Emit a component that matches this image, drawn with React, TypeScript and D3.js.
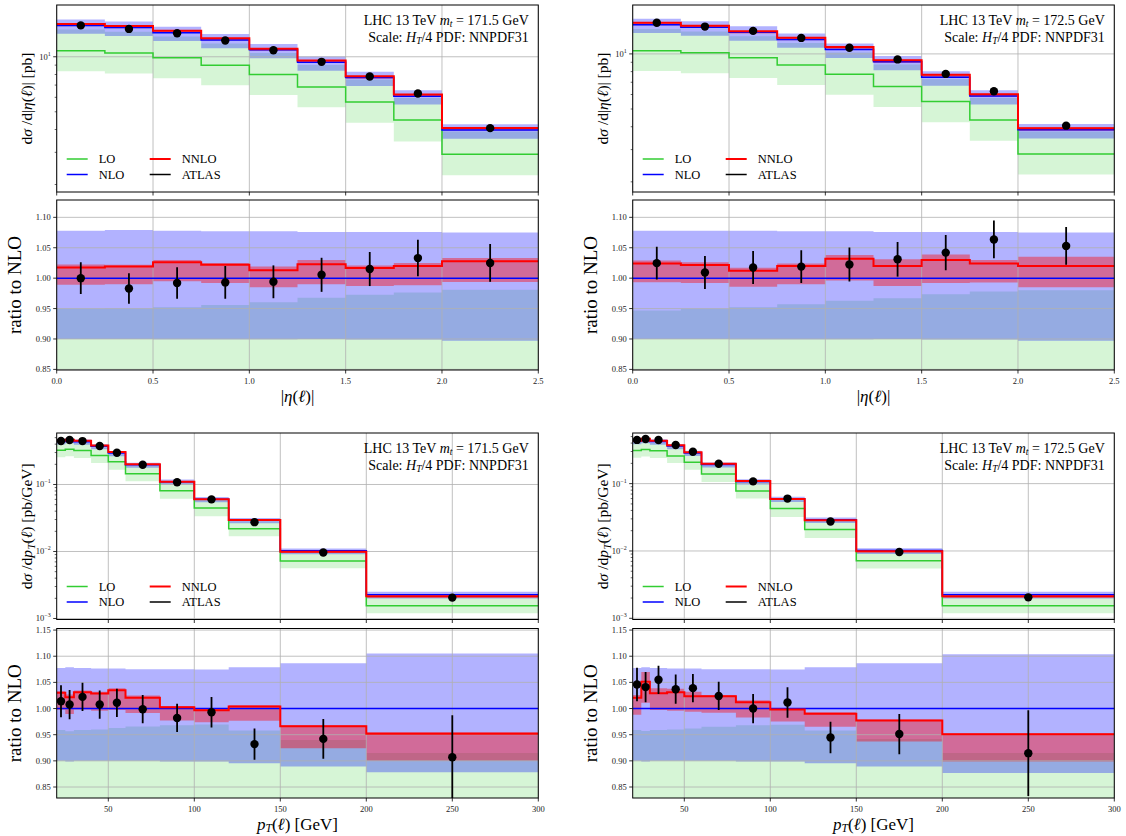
import React from "react";
import * as d3 from "d3";

// ---------------- data ----------------
const etaEdges = [0, 0.25, 0.5, 0.75, 1.0, 1.25, 1.5, 1.75, 2.0, 2.5];
const ptEdges = [20, 25, 30, 40, 50, 60, 80, 100, 120, 150, 200, 300];
const etaTicks = [0, 0.5, 1.0, 1.5, 2.0, 2.5];
const ptTicks = [50, 100, 150, 200, 250, 300];
const etaRatioTicks = [0.85, 0.9, 0.95, 1.0, 1.05, 1.1];
const ptRatioTicks = [0.85, 0.9, 0.95, 1.0, 1.05, 1.1, 1.15];
const legendEntries = ["LO", "NLO", "NNLO", "ATLAS"];

// |eta| distribution, mt = 171.5 GeV
const etaNLO171 = [14.85, 14.45, 13.55, 12.37, 10.92, 9.33, 7.69, 6.09, 3.97];
const etaLO171 = [10.79, 10.48, 9.87, 9.0, 8.0, 6.84, 5.66, 4.51, 2.93];
const etaLOlow171 = [8.34, 8.11, 7.64, 6.99, 6.18, 5.3, 4.36, 3.44, 2.25];
const etaRatioLOhi171 = [0.9496, 0.95, 0.952, 0.956, 0.9605, 0.9677, 0.9726, 0.9764, 0.981];
const etaRatioNLOlo171 = [0.9, 0.9, 0.8995, 0.8995, 0.8995, 0.9, 0.899, 0.899, 0.897];
const etaRatioNLOhi171 = [1.078, 1.079, 1.078, 1.077, 1.077, 1.076, 1.076, 1.076, 1.075];
const etaRatioNNLO171 = [1.0175, 1.019, 1.026, 1.022, 1.013, 1.023, 1.0165, 1.02, 1.028];
const etaRatioNNLOlo171 = [0.989, 0.99, 0.995, 0.992, 0.985, 0.99, 0.987, 0.9885, 0.9935];
const etaRatioNNLOhi171 = [1.0225, 1.022, 1.03, 1.025, 1.019, 1.03, 1.021, 1.025, 1.033];
const etaRatioData171 = [1.0, 0.983, 0.992, 0.993, 0.994, 1.0055, 1.015, 1.033, 1.025];
const etaRatioErr171 = [0.026, 0.025, 0.026, 0.027, 0.027, 0.028, 0.028, 0.03, 0.031];

// |eta| distribution, mt = 172.5 GeV
const etaNLO172 = [14.45, 13.97, 13.13, 12.0, 10.57, 9.05, 7.46, 5.88, 3.85];
const etaLO172 = [10.42, 10.16, 9.54, 8.71, 7.75, 6.63, 5.49, 4.36, 2.84];
const etaLOlow172 = [8.07, 7.84, 7.39, 6.77, 5.99, 5.13, 4.23, 3.35, 2.19];
const etaRatioLOhi172 = [0.947, 0.9496, 0.952, 0.957, 0.963, 0.967, 0.9737, 0.978, 0.98];
const etaRatioNLOlo172 = [0.9, 0.9, 0.8995, 0.8995, 0.8995, 0.9, 0.899, 0.899, 0.897];
const etaRatioNLOhi172 = [1.078, 1.078, 1.078, 1.077, 1.077, 1.076, 1.076, 1.076, 1.075];
const etaRatioNNLO172 = [1.024, 1.0215, 1.012, 1.02, 1.032, 1.02, 1.03, 1.024, 1.02];
const etaRatioNNLOlo172 = [0.9934, 0.992, 0.986, 0.99, 0.996, 0.987, 0.992, 0.993, 0.985];
const etaRatioNNLOhi172 = [1.029, 1.026, 1.017, 1.024, 1.038, 1.031, 1.039, 1.03, 1.035];
const etaRatioData172 = [1.0247, 1.0093, 1.0175, 1.019, 1.0225, 1.031, 1.042, 1.0636, 1.053];
const etaRatioErr172 = [0.027, 0.027, 0.027, 0.027, 0.028, 0.0285, 0.029, 0.031, 0.031];

// pT distribution, mt = 171.5 GeV
const ptNLO171 = [0.44, 0.4575, 0.435, 0.372, 0.294, 0.197, 0.11, 0.0604, 0.0294, 0.01024, 0.00226];
const ptLO171 = [0.324, 0.336, 0.322, 0.271, 0.218, 0.145, 0.0808, 0.0446, 0.0219, 0.00721, 0.00155];
const ptLOlow171 = [0.2547, 0.2636, 0.2486, 0.2094, 0.1663, 0.1116, 0.0614, 0.0335, 0.01686, 0.00562, 0.0012];
const ptRatioLOhi171 = [0.959, 0.9567, 0.959, 0.96, 0.9627, 0.9656, 0.9682, 0.9694, 0.958, 0.94, 0.915];
const ptRatioNLOlo171 = [0.9, 0.899, 0.9, 0.9, 0.9, 0.9, 0.899, 0.899, 0.8955, 0.889, 0.878];
const ptRatioNLOhi171 = [1.0777, 1.079, 1.0777, 1.0764, 1.0764, 1.075, 1.075, 1.0745, 1.079, 1.0866, 1.105];
const ptRatioNNLO171 = [1.03, 1.0217, 1.031, 1.0287, 1.035, 1.0204, 1.0025, 0.9968, 1.0038, 0.966, 0.952];
const ptRatioNNLOlo171 = [0.9975, 0.9898, 0.998, 0.996, 0.997, 0.9917, 0.977, 0.974, 0.9765, 0.924, 0.9];
const ptRatioNNLOhi171 = [1.033, 1.027, 1.0344, 1.032, 1.039, 1.025, 1.005, 1.001, 1.0064, 0.968, 0.955];
const ptRatioData171 = [1.014, 1.0076, 1.0223, 1.0076, 1.011, 0.9987, 0.982, 0.993, 0.932, 0.942, 0.907];
const ptRatioErr171 = [0.0306, 0.028, 0.027, 0.027, 0.027, 0.027, 0.027, 0.029, 0.03, 0.038, 0.08];

// pT distribution, mt = 172.5 GeV
const ptNLO172 = [0.4264, 0.4428, 0.4218, 0.3616, 0.2859, 0.1924, 0.108, 0.0593, 0.029, 0.01014, 0.00224];
const ptLO172 = [0.311, 0.322, 0.308, 0.2564, 0.207, 0.1388, 0.0777, 0.0427, 0.0208, 0.00713, 0.00154];
const ptLOlow172 = [0.2427, 0.2537, 0.2394, 0.2019, 0.161, 0.1056, 0.06, 0.032, 0.01563, 0.0055, 0.00119];
const ptRatioLOhi172 = [0.959, 0.957, 0.959, 0.96, 0.962, 0.965, 0.968, 0.969, 0.958, 0.942, 0.915];
const ptRatioNLOlo172 = [0.9, 0.899, 0.9, 0.9, 0.9, 0.9, 0.899, 0.899, 0.8955, 0.889, 0.877];
const ptRatioNLOhi172 = [1.0777, 1.079, 1.0777, 1.0764, 1.0764, 1.075, 1.075, 1.0745, 1.079, 1.0866, 1.104];
const ptRatioNNLO172 = [1.0204, 1.051, 1.029, 1.031, 1.0236, 1.0236, 1.012, 0.998, 0.99, 0.977, 0.951];
const ptRatioNNLOlo172 = [0.988, 1.011, 0.997, 0.996, 0.994, 0.992, 0.983, 0.975, 0.965, 0.937, 0.899];
const ptRatioNNLOhi172 = [1.026, 1.07, 1.039, 1.0376, 1.032, 1.026, 1.016, 1.001, 0.993, 0.979, 0.953];
const ptRatioData172 = [1.0459, 1.041, 1.055, 1.037, 1.039, 1.024, 1.0, 1.0115, 0.9446, 0.9513, 0.9147];
const ptRatioErr172 = [0.032, 0.029, 0.027, 0.028, 0.027, 0.027, 0.028, 0.029, 0.03, 0.0385, 0.082];

// ---------------- styling ----------------
const FONT = "'Liberation Serif', 'DejaVu Serif', serif";
const C_LO = "#32cd32";
const C_NLO = "#0000ff";
const C_NNLO = "#ff0000";
const GRID = "#b0b0b0";

type Spec = {
  id: string;
  kind: "eta" | "pt";
  mt: string;
  left: number;
  right: number;
  mainTop: number;
  mainBottom: number;
  ratioTop: number;
  ratioBottom: number;
  edges: number[];
  xDomain: [number, number];
  xTicks: number[];
  mainDomain: [number, number];
  ratioDomain: [number, number];
  ratioTicks: number[];
  nlo: number[];
  lo: number[];
  loLow: number[];
  rLoHi: number[];
  rNloLo: number[];
  rNloHi: number[];
  rNnlo: number[];
  rNnloLo: number[];
  rNnloHi: number[];
  rData: number[];
  rErr: number[];
};

const COLS = [
  { left: 56.7, right: 538.3 },
  { left: 632.7, right: 1114.3 },
];
const ROWS = [
  { mainTop: 5, mainBottom: 192, ratioTop: 200, ratioBottom: 370 },
  { mainTop: 433, mainBottom: 619.5, ratioTop: 628.5, ratioBottom: 798 },
];

const specs: Spec[] = [
  {
    id: "a", kind: "eta", mt: "171.5", ...COLS[0], ...ROWS[0],
    edges: etaEdges, xDomain: [0, 2.5], xTicks: etaTicks,
    mainDomain: [1.82, 19.2], ratioDomain: [0.849, 1.1285], ratioTicks: etaRatioTicks,
    nlo: etaNLO171, lo: etaLO171, loLow: etaLOlow171, rLoHi: etaRatioLOhi171,
    rNloLo: etaRatioNLOlo171, rNloHi: etaRatioNLOhi171, rNnlo: etaRatioNNLO171,
    rNnloLo: etaRatioNNLOlo171, rNnloHi: etaRatioNNLOhi171, rData: etaRatioData171, rErr: etaRatioErr171,
  },
  {
    id: "b", kind: "eta", mt: "172.5", ...COLS[1], ...ROWS[0],
    edges: etaEdges, xDomain: [0, 2.5], xTicks: etaTicks,
    mainDomain: [1.76, 18.5], ratioDomain: [0.849, 1.1285], ratioTicks: etaRatioTicks,
    nlo: etaNLO172, lo: etaLO172, loLow: etaLOlow172, rLoHi: etaRatioLOhi172,
    rNloLo: etaRatioNLOlo172, rNloHi: etaRatioNLOhi172, rNnlo: etaRatioNNLO172,
    rNnloLo: etaRatioNNLOlo172, rNnloHi: etaRatioNNLOhi172, rData: etaRatioData172, rErr: etaRatioErr172,
  },
  {
    id: "c", kind: "pt", mt: "171.5", ...COLS[0], ...ROWS[1],
    edges: ptEdges, xDomain: [20, 300], xTicks: ptTicks,
    mainDomain: [0.000966, 0.587], ratioDomain: [0.829, 1.153], ratioTicks: ptRatioTicks,
    nlo: ptNLO171, lo: ptLO171, loLow: ptLOlow171, rLoHi: ptRatioLOhi171,
    rNloLo: ptRatioNLOlo171, rNloHi: ptRatioNLOhi171, rNnlo: ptRatioNNLO171,
    rNnloLo: ptRatioNNLOlo171, rNnloHi: ptRatioNNLOhi171, rData: ptRatioData171, rErr: ptRatioErr171,
  },
  {
    id: "d", kind: "pt", mt: "172.5", ...COLS[1], ...ROWS[1],
    edges: ptEdges, xDomain: [20, 300], xTicks: ptTicks,
    mainDomain: [0.00096, 0.565], ratioDomain: [0.829, 1.153], ratioTicks: ptRatioTicks,
    nlo: ptNLO172, lo: ptLO172, loLow: ptLOlow172, rLoHi: ptRatioLOhi172,
    rNloLo: ptRatioNLOlo172, rNloHi: ptRatioNLOhi172, rNnlo: ptRatioNNLO172,
    rNnloLo: ptRatioNNLOlo172, rNnloHi: ptRatioNNLOhi172, rData: ptRatioData172, rErr: ptRatioErr172,
  },
];

const mul = (a: number[], b: number[]) => a.map((v, i) => v * b[i]);
const div = (a: number[], b: number[]) => a.map((v, i) => v / b[i]);

function Group({ s }: { s: Spec }) {
  const x = d3.scaleLinear().domain(s.xDomain).range([s.left, s.right]);
  const ym = d3.scaleLog().domain(s.mainDomain).range([s.mainBottom, s.mainTop]);
  const yr = d3.scaleLinear().domain(s.ratioDomain).range([s.ratioBottom, s.ratioTop]);
  const n = s.nlo.length;
  const centers = s.edges.slice(0, n).map((e, i) => (e + s.edges[i + 1]) / 2);

  const stepPts = (vals: number[]) =>
    vals.map((v, i) => [s.edges[i], v] as [number, number]).concat([[s.edges[n], vals[n - 1]]]);
  const lineFor = (y: (v: number) => number, vals: number[]) =>
    d3.line<[number, number]>().x((d) => x(d[0])).y((d) => y(d[1])).curve(d3.curveStepAfter)(stepPts(vals)) || "";
  const areaFor = (y: (v: number) => number, lo: number[], hi: number[]) => {
    const pts = lo.map((v, i) => ({ x: s.edges[i], lo: v, hi: hi[i] }));
    pts.push({ x: s.edges[n], lo: lo[n - 1], hi: hi[n - 1] });
    return (
      d3.area<{ x: number; lo: number; hi: number }>()
        .x((d) => x(d.x))
        .y0((d) => y(d.lo))
        .y1((d) => y(d.hi))
        .curve(d3.curveStepAfter)(pts) || ""
    );
  };

  // main-panel quantities
  const loHi = mul(s.nlo, s.rLoHi);
  const nloLo = mul(s.nlo, s.rNloLo);
  const nloHi = mul(s.nlo, s.rNloHi);
  const nnlo = mul(s.nlo, s.rNnlo);
  const nnloLo = mul(s.nlo, s.rNnloLo);
  const nnloHi = mul(s.nlo, s.rNnloHi);
  const data = mul(s.nlo, s.rData);
  const dataErr = mul(s.nlo, s.rErr);
  // ratio-panel quantities
  const rLoLow = div(s.loLow, s.nlo);
  const rLo = div(s.lo, s.nlo);
  const ones = s.nlo.map(() => 1);

  // log ticks for main panel
  const [d0, d1] = s.mainDomain;
  const majors: number[] = [];
  const minors: number[] = [];
  for (let e = Math.floor(Math.log10(d0)); e <= Math.ceil(Math.log10(d1)); e++) {
    for (let k = 1; k <= 9; k++) {
      const v = k * Math.pow(10, e);
      if (v >= d0 * 0.999 && v <= d1 * 1.001) (k === 1 ? majors : minors).push(v);
    }
  }

  const W = s.right - s.left;
  const mainH = s.mainBottom - s.mainTop;
  const ratioH = s.ratioBottom - s.ratioTop;
  const clipM = `clipM${s.id}`;
  const clipR = `clipR${s.id}`;
  const tickFont = 8.5;
  const xFmt = s.kind === "eta" ? d3.format(".1f") : d3.format("d");
  const yFmt = d3.format(".2f");

  const bands = (y: any, lo1: number[], hi1: number[], lo2: number[], hi2: number[], lo3: number[], hi3: number[]) => (
    <g>
      <path d={areaFor(y, lo1, hi1)} fill={C_LO} fillOpacity={0.2} />
      <path d={areaFor(y, lo2, hi2)} fill={C_NLO} fillOpacity={0.3} />
      <path d={areaFor(y, lo3, hi3)} fill={C_NNLO} fillOpacity={0.4} />
    </g>
  );

  const midMain = (s.mainTop + s.mainBottom) / 2;
  const midRatio = (s.ratioTop + s.ratioBottom) / 2;
  const cx = (s.left + s.right) / 2;

  const legX = s.left;
  const legY0 = s.mainBottom - 33;
  const legRows = [
    { label: legendEntries[0], color: C_LO, col: 0, row: 0 },
    { label: legendEntries[1], color: C_NLO, col: 0, row: 1 },
    { label: legendEntries[2], color: C_NNLO, col: 1, row: 0 },
    { label: legendEntries[3], color: "#000", col: 1, row: 1 },
  ];

  return (
    <g>
      <defs>
        <clipPath id={clipM}>
          <rect x={s.left} y={s.mainTop} width={W} height={mainH} />
        </clipPath>
        <clipPath id={clipR}>
          <rect x={s.left} y={s.ratioTop} width={W} height={ratioH} />
        </clipPath>
      </defs>

      {/* ---------- main panel ---------- */}
      <g clipPath={`url(#${clipM})`}>
        {bands(ym, s.loLow, loHi, nloLo, nloHi, nnloLo, nnloHi)}
        {s.xTicks.map((t) => (
          <line key={"gx" + t} x1={x(t)} x2={x(t)} y1={s.mainTop} y2={s.mainBottom} stroke={GRID} strokeWidth={0.8} />
        ))}
        {majors.map((t) => (
          <line key={"gy" + t} x1={s.left} x2={s.right} y1={ym(t)} y2={ym(t)} stroke={GRID} strokeWidth={0.8} />
        ))}
        <path d={lineFor(ym, s.lo)} fill="none" stroke={C_LO} strokeWidth={1.5} />
        <path d={lineFor(ym, s.nlo)} fill="none" stroke={C_NLO} strokeWidth={1.5} />
        <path d={lineFor(ym, nnlo)} fill="none" stroke={C_NNLO} strokeWidth={2} />
        {centers.map((c, i) => (
          <g key={"dm" + i}>
            <line x1={x(c)} x2={x(c)} y1={ym(data[i] - dataErr[i])} y2={ym(data[i] + dataErr[i])} stroke="#000" strokeWidth={1.8} />
            <circle cx={x(c)} cy={ym(data[i])} r={4.2} fill="#000" />
          </g>
        ))}
      </g>
      <rect x={s.left} y={s.mainTop} width={W} height={mainH} fill="none" stroke="#000" strokeWidth={1} />
      {s.xTicks.map((t) => (
        <line key={"tmx" + t} x1={x(t)} x2={x(t)} y1={s.mainBottom} y2={s.mainBottom + 3.5} stroke="#000" strokeWidth={0.8} />
      ))}
      {majors.map((t) => (
        <g key={"tmy" + t}>
          <line x1={s.left - 3.5} x2={s.left} y1={ym(t)} y2={ym(t)} stroke="#000" strokeWidth={0.8} />
          <text x={s.left - 6} y={ym(t) + 3} textAnchor="end" fontFamily={FONT} fontSize={tickFont} fill="#222">
            10
            <tspan dy={-4} fontSize={6}>{String(Math.round(Math.log10(t))).replace("-", "\u2212")}</tspan>
          </text>
        </g>
      ))}
      {minors.map((t) => (
        <line key={"tny" + t} x1={s.left - 2} x2={s.left} y1={ym(t)} y2={ym(t)} stroke="#000" strokeWidth={0.6} />
      ))}
      {/* y label main */}
      <text
        transform={`translate(${s.left - 25},${midMain}) rotate(-90)`}
        textAnchor="middle"
        fontFamily={FONT}
        fontSize={15.5}
        fill="#000"
      >
        {s.kind === "eta" ? (
          <>
            d<tspan fontStyle="italic">σ</tspan> /d|<tspan fontStyle="italic">η</tspan>(<tspan fontStyle="italic">ℓ</tspan>)| [pb]
          </>
        ) : (
          <>
            d<tspan fontStyle="italic">σ</tspan> /d<tspan fontStyle="italic">p</tspan>
            <tspan fontStyle="italic" fontSize={11} dx={0.5} dy={3}>T</tspan>
            <tspan dy={-3}>(</tspan><tspan fontStyle="italic">ℓ</tspan>) [pb/GeV]
          </>
        )}
      </text>
      {/* annotation */}
      <text x={s.right - 9.5} y={s.mainTop + 19.5} textAnchor="end" fontFamily={FONT} fontSize={14} fill="#000">
        LHC 13 TeV <tspan fontStyle="italic">m</tspan>
        <tspan fontStyle="italic" fontSize={9.5} dy={2}>t</tspan>
        <tspan dy={-2}> = {s.mt} GeV</tspan>
      </text>
      <text x={s.right - 9.5} y={s.mainTop + 36.5} textAnchor="end" fontFamily={FONT} fontSize={14} fill="#000">
        Scale: <tspan fontStyle="italic">H</tspan>
        <tspan fontStyle="italic" fontSize={9.5} dy={2}>T</tspan>
        <tspan dy={-2}>/4 PDF: NNPDF31</tspan>
      </text>
      {/* legend */}
      {legRows.map((e) => {
        const lx = legX + 10 + e.col * 83;
        const ly = legY0 + e.row * 15.5;
        return (
          <g key={"leg" + e.label}>
            <line x1={lx} x2={lx + 21} y1={ly} y2={ly} stroke={e.color} strokeWidth={e.label === "NNLO" ? 2 : 1.5} />
            <text x={lx + 32} y={ly + 4} fontFamily={FONT} fontSize={12.5} fill="#000">
              {e.label}
            </text>
          </g>
        );
      })}

      {/* ---------- ratio panel ---------- */}
      <g clipPath={`url(#${clipR})`}>
        {bands(yr, rLoLow, s.rLoHi, s.rNloLo, s.rNloHi, s.rNnloLo, s.rNnloHi)}
        {s.xTicks.map((t) => (
          <line key={"rgx" + t} x1={x(t)} x2={x(t)} y1={s.ratioTop} y2={s.ratioBottom} stroke={GRID} strokeWidth={0.8} />
        ))}
        {s.ratioTicks.map((t) => (
          <line key={"rgy" + t} x1={s.left} x2={s.right} y1={yr(t)} y2={yr(t)} stroke={GRID} strokeWidth={0.8} />
        ))}
        <path d={lineFor(yr, rLo)} fill="none" stroke={C_LO} strokeWidth={1.5} />
        <path d={lineFor(yr, ones)} fill="none" stroke={C_NLO} strokeWidth={1.5} />
        <path d={lineFor(yr, s.rNnlo)} fill="none" stroke={C_NNLO} strokeWidth={2} />
        {centers.map((c, i) => (
          <g key={"dr" + i}>
            <line x1={x(c)} x2={x(c)} y1={yr(s.rData[i] - s.rErr[i])} y2={yr(s.rData[i] + s.rErr[i])} stroke="#000" strokeWidth={1.8} />
            <circle cx={x(c)} cy={yr(s.rData[i])} r={4.2} fill="#000" />
          </g>
        ))}
      </g>
      <rect x={s.left} y={s.ratioTop} width={W} height={ratioH} fill="none" stroke="#000" strokeWidth={1} />
      {s.xTicks.map((t) => (
        <g key={"trx" + t}>
          <line x1={x(t)} x2={x(t)} y1={s.ratioBottom} y2={s.ratioBottom + 3.5} stroke="#000" strokeWidth={0.8} />
          <text x={x(t)} y={s.ratioBottom + 14} textAnchor="middle" fontFamily={FONT} fontSize={tickFont} fill="#222">
            {xFmt(t)}
          </text>
        </g>
      ))}
      {s.ratioTicks.map((t) => (
        <g key={"try" + t}>
          <line x1={s.left - 3.5} x2={s.left} y1={yr(t)} y2={yr(t)} stroke="#000" strokeWidth={0.8} />
          <text x={s.left - 6} y={yr(t) + 3} textAnchor="end" fontFamily={FONT} fontSize={tickFont} fill="#222">
            {yFmt(t)}
          </text>
        </g>
      ))}
      <text
        transform={`translate(${s.left - 36},${midRatio}) rotate(-90)`}
        textAnchor="middle"
        fontFamily={FONT}
        fontSize={19}
        fill="#000"
      >
        ratio to NLO
      </text>
      <text x={cx} y={s.ratioBottom + 32} textAnchor="middle" fontFamily={FONT} fontSize={17} fill="#000">
        {s.kind === "eta" ? (
          <>
            |<tspan fontStyle="italic">η</tspan>(<tspan fontStyle="italic">ℓ</tspan>)|
          </>
        ) : (
          <>
            <tspan fontStyle="italic">p</tspan>
            <tspan fontStyle="italic" fontSize={11.5} dy={2}>T</tspan>
            <tspan dy={-2}>(</tspan><tspan fontStyle="italic">ℓ</tspan>) [GeV]
          </>
        )}
      </text>
    </g>
  );
}

export default function App() {
  return (
    <svg
      width={1126}
      height={836}
      viewBox="0 0 1126 836"
      style={{ position: "absolute", left: 0, top: 0, background: "#fff" }}
    >
      <rect x={0} y={0} width={1126} height={836} fill="#fff" />
      {specs.map((s) => (
        <Group key={s.id} s={s} />
      ))}
    </svg>
  );
}
